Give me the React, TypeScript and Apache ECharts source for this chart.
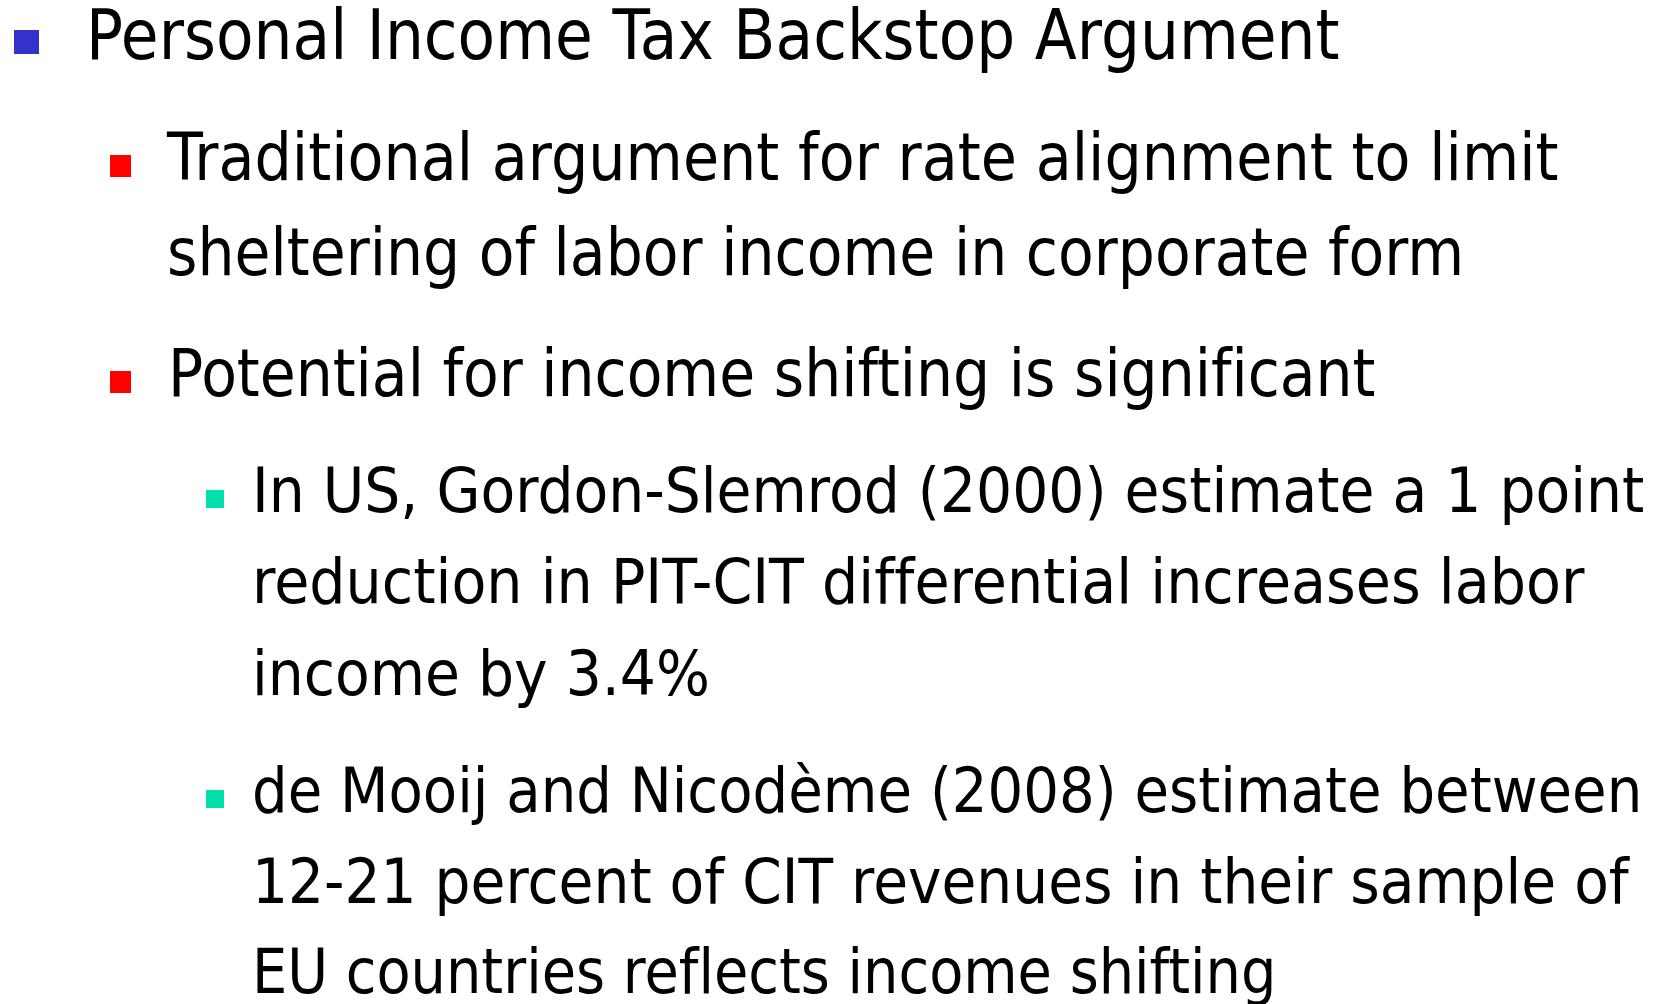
import React, { useEffect, useRef } from "react";
import * as echarts from "echarts";

// ---- Slide content (text lines per paragraph) ----
const LEVEL1_LINES = ["Personal Income Tax Backstop Argument"];
const LEVEL2_A_LINES = [
  "Traditional argument for rate alignment to limit",
  "sheltering of labor income in corporate form",
];
const LEVEL2_B_LINES = ["Potential for income shifting is significant"];
const LEVEL3_A_LINES = [
  "In US, Gordon-Slemrod (2000) estimate a 1 point",
  "reduction in PIT-CIT differential increases labor",
  "income by 3.4%",
];
const LEVEL3_B_LINES = [
  "de Mooij and Nicodème (2008) estimate between",
  "12-21 percent of CIT revenues in their sample of",
  "EU countries reflects income shifting",
];

// ---- Layout (kept separate from content) ----
const FONT_FAMILY = '"DejaVu Sans", Verdana, sans-serif';
const W = 1667;
const H = 1004;

type Para = {
  lines: string[];
  left: number;
  fontSize: number;
  baselines: number[];
  rights: number[];
  bullet: { x: number; y: number; w: number; h: number; color: string };
};

const PARAS: Para[] = [
  {
    lines: LEVEL1_LINES,
    left: 86,
    fontSize: 70,
    baselines: [59],
    rights: [1340],
    bullet: { x: 14, y: 30, w: 25, h: 24, color: "#3333CC" },
  },
  {
    lines: LEVEL2_A_LINES,
    left: 167,
    fontSize: 66,
    baselines: [180, 275],
    rights: [1558, 1465],
    bullet: { x: 110, y: 155, w: 21, h: 22, color: "#FF0000" },
  },
  {
    lines: LEVEL2_B_LINES,
    left: 168,
    fontSize: 66,
    baselines: [396],
    rights: [1375],
    bullet: { x: 110, y: 371, w: 21, h: 22, color: "#FF0000" },
  },
  {
    lines: LEVEL3_A_LINES,
    left: 252,
    fontSize: 62,
    baselines: [512, 603, 695],
    rights: [1645, 1585, 710],
    bullet: { x: 206, y: 490, w: 18, h: 18, color: "#00E0AA" },
  },
  {
    lines: LEVEL3_B_LINES,
    left: 252,
    fontSize: 62,
    baselines: [812, 903, 993],
    rights: [1643, 1629, 1277],
    bullet: { x: 206, y: 790, w: 18, h: 18, color: "#00E0AA" },
  },
];

function measure(text: string, size: number) {
  // width as rendered without ligatures (the slide shows none)
  const span = document.createElement("span");
  span.textContent = text;
  span.style.cssText =
    `position:absolute;left:-10000px;top:0;white-space:pre;font:${size}px ${FONT_FAMILY};` +
    "font-variant-ligatures:none;font-feature-settings:'liga' 0,'clig' 0;";
  document.body.appendChild(span);
  const width = span.getBoundingClientRect().width;
  document.body.removeChild(span);
  const c = document.createElement("canvas");
  const ctx = c.getContext("2d")!;
  ctx.font = `${size}px ${FONT_FAMILY}`;
  const m = ctx.measureText(text);
  const asc = (m as any).fontBoundingBoxAscent ?? size * 0.928;
  const desc = (m as any).fontBoundingBoxDescent ?? size * 0.236;
  return { width, asc, desc };
}

export default function App() {
  const ref = useRef<HTMLDivElement>(null);
  useEffect(() => {
    if (!ref.current) return;
    const chart = echarts.init(ref.current, undefined, { renderer: "svg" });
    const elements: any[] = [];
    PARAS.forEach((p) => {
      elements.push({
        type: "rect",
        shape: { x: p.bullet.x, y: p.bullet.y, width: p.bullet.w, height: p.bullet.h },
        style: { fill: p.bullet.color },
      });
      p.lines.forEach((line, i) => {
        const m = measure(line, p.fontSize);
        const sx = (p.rights[i] - p.left) / m.width;
        const centralOffset = (m.asc - m.desc) / 2;
        elements.push({
          type: "text",
          x: p.left,
          y: p.baselines[i] - centralOffset,
          scaleX: sx,
          style: {
            text: line,
            x: 0,
            y: 0,
            fill: "#000000",
            font: `${p.fontSize}px ${FONT_FAMILY}`,
            textAlign: "left",
            textVerticalAlign: "middle",
          },
        });
      });
    });
    chart.setOption({
      animation: false,
      backgroundColor: "#FFFFFF",
      graphic: { elements },
    });
    return () => chart.dispose();
  }, []);
  return (
    <>
      <style>{`svg text, svg tspan { font-variant-ligatures: none !important; font-feature-settings: "liga" 0, "clig" 0 !important; }`}</style>
      <div
        ref={ref}
        style={{ position: "fixed", left: 0, top: 0, width: W, height: H, background: "#fff" }}
      />
    </>
  );
}
